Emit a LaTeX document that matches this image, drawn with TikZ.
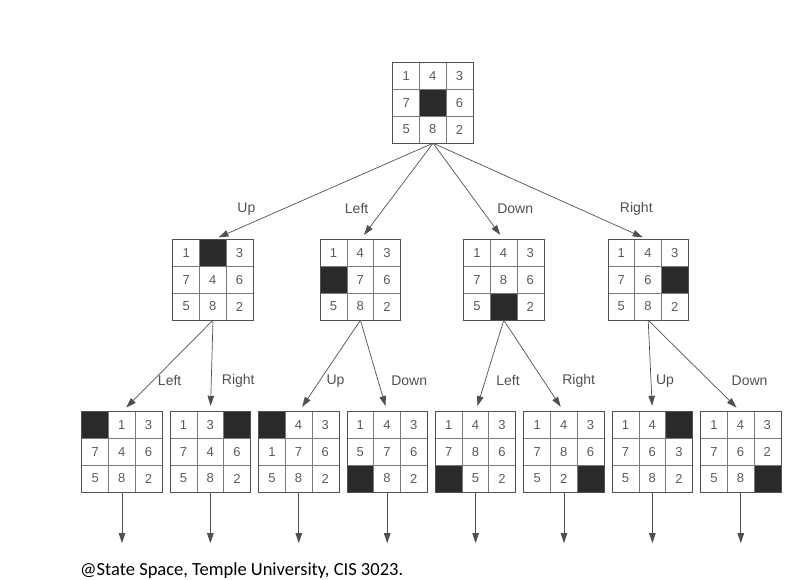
\documentclass[tikz,border=0pt]{standalone}
\usepackage{fontspec}
\setmainfont{Liberation Sans}
\newfontfamily\creditfont{Carlito}
\usepackage{xcolor}
\usetikzlibrary{arrows.meta, positioning}
\definecolor{inkgray}{HTML}{505050}
\definecolor{digitgray}{HTML}{5A5A5A}
\definecolor{gridgray}{HTML}{7A7A7A}
\definecolor{blankfill}{HTML}{2A2A2A}
\tikzset{
  board/.style={rectangle, minimum width=80pt, minimum height=80pt, inner sep=0pt},
  tile/.style={font=\fontsize{13}{13}\selectfont, text=digitgray, inner sep=0pt},
  move/.style={-{Triangle[length=10pt, width=6.5pt]}, draw=inkgray, line width=0.7pt, shorten >=6pt},
  movelbl/.style={font=\fontsize{14}{14}\selectfont, text=inkgray, inner sep=1pt},
}
% one 8-puzzle board: name, placement, tiles row by row (0 = blank)
\newcommand{\puzzle}[3]{%
  \node[board, #2] (#1) {};
  \begin{scope}[shift={(#1.north west)}]
    \foreach \tv [count=\ti from 0] in {#3} {
      \pgfmathtruncatemacro\bcol{mod(\ti,3)}
      \pgfmathtruncatemacro\brow{div(\ti,3)}
      \ifnum\tv=0
        \fill[blankfill] (\bcol*80/3, \brow*80/3) rectangle ++(80/3, 80/3);
      \else
        \node[tile] (#1-\ti) at (\bcol*80/3+40/3, \brow*80/3+40/3) {\tv};
      \fi
    }
    \draw[gridgray, line width=0.6pt] (80/3,0) -- (80/3,80) (160/3,0) -- (160/3,80)
      (0,80/3) -- (80,80/3) (0,160/3) -- (80,160/3);
  \end{scope}
  \draw[inkgray, line width=0.9pt] (#1.north west) rectangle (#1.south east);
}

\begin{document}
\begin{tikzpicture}[x=1pt, y=-1pt]
  \useasboundingbox (0,0) rectangle (785,580);

  % Start state
  \puzzle{root}{at={(433,103)}}{1,4,3,7,0,6,5,8,2}

  % First moves
  \puzzle{up}{at={(213,280)}}{1,0,3,7,4,6,5,8,2}
  \puzzle{left}{right=67pt of up}{1,4,3,0,7,6,5,8,2}
  \puzzle{down}{right=63pt of left}{1,4,3,7,8,6,5,0,2}
  \puzzle{right}{right=64pt of down}{1,4,3,7,6,0,5,8,2}

  % Second moves
  \puzzle{b1}{at={(122,452)}}{0,1,3,7,4,6,5,8,2}
  \puzzle{b2}{right=8pt of b1}{1,3,0,7,4,6,5,8,2}
  \puzzle{b3}{right=8pt of b2}{0,4,3,1,7,6,5,8,2}
  \puzzle{b4}{right=8pt of b3}{1,4,3,5,7,6,0,8,2}
  \puzzle{b5}{right=8pt of b4}{1,4,3,7,8,6,0,5,2}
  \puzzle{b6}{right=8pt of b5}{1,4,3,7,8,6,5,2,0}
  \puzzle{b7}{right=8pt of b6}{1,4,0,7,6,3,5,8,2}
  \puzzle{b8}{right=8pt of b7}{1,4,3,7,6,2,5,8,0}

  % Arrows: start to first moves
  \draw[move] (root.south) -- node[movelbl, pos=.68, xshift=-37pt]{Up} (up.north);
  \draw[move] (root.south) -- node[movelbl, pos=.68, xshift=-27pt]{Left} (left.north);
  \draw[move] (root.south) -- node[movelbl, pos=.68, xshift=34pt]{Down} (down.north);
  \draw[move] (root.south) -- node[movelbl, pos=.68, xshift=57pt]{Right} (right.north);

  % Arrows: first to second moves
  \draw[move] (up.south) -- node[movelbl, pos=.663, xshift=17pt]{Left} (b1.north);
  \draw[move] (up.south) -- node[movelbl, pos=.663, xshift=27pt]{Right} (b2.north);
  \draw[move] (left.south) -- node[movelbl, pos=.663, xshift=16pt]{Up} (b3.north);
  \draw[move] (left.south) -- node[movelbl, pos=.663, xshift=31pt]{Down} (b4.north);
  \draw[move] (down.south) -- node[movelbl, pos=.663, xshift=23pt]{Left} (b5.north);
  \draw[move] (down.south) -- node[movelbl, pos=.663, xshift=35pt]{Right} (b6.north);
  \draw[move] (right.south) -- node[movelbl, pos=.663, xshift=14pt]{Up} (b7.north);
  \draw[move] (right.south) -- node[movelbl, pos=.663, xshift=40pt]{Down} (b8.north);

  % Arrows: further expansion
  \foreach \b in {1,...,8} {
    \coordinate[below=57pt of b\b] (e\b);
    \draw[move] (b\b.south) -- (e\b);
  }

  \node[font=\creditfont\fontsize{18.5}{18.5}\selectfont, anchor=base west, inner sep=0pt] (credit)
    at (80,575.5) {@State Space, Temple University, CIS 3023.};
\end{tikzpicture}
\end{document}
